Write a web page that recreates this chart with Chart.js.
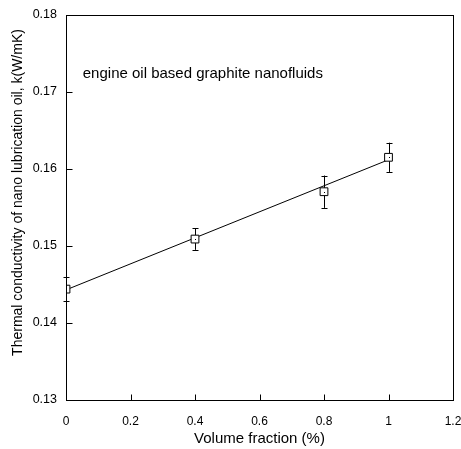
<!DOCTYPE html>
<html>
<head>
<meta charset="utf-8">
<script src="https://cdn.jsdelivr.net/npm/chart.js@4"></script>
<style>
  html, body { margin: 0; padding: 0; background: #fff; }
  #wrap { width: 461px; height: 449px; }
</style>
</head>
<body>
<div id="wrap"><canvas id="myChart" width="461" height="449"></canvas></div>
<script>
// measured points (volume fraction %, conductivity) with error half-widths
const volumeFraction = [0, 0.4, 0.8, 1.0]
const conductivity = [0.1444, 0.1509, 0.15705, 0.16152]
const errors = [0.0016, 0.0014, 0.0021, 0.0019]

// straight trend line
const fitX = [0, 1.0]
const fitY = [0.1443, 0.1612]

const xTicks = [0, 0.2, 0.4, 0.6, 0.8, 1, 1.2]
const yTicks = [0.13, 0.14, 0.15, 0.16, 0.17, 0.18]

const noteText = 'engine oil based graphite nanofluids'
const yTitle = 'Thermal conductivity of nano lubrication oil, k(W/mK)'

const font = 'Liberation Sans, Arial, sans-serif'

const extras = {
  id: 'extras',
  afterDatasetsDraw(chart) {
    const { ctx, scales: { x, y } } = chart
    ctx.save()
    ctx.strokeStyle = '#000'
    ctx.lineWidth = 1

    // error bars
    volumeFraction.forEach((v, i) => {
      const px = Math.round(x.getPixelForValue(v)) + 0.5
      const top = y.getPixelForValue(conductivity[i] + errors[i])
      const bot = y.getPixelForValue(conductivity[i] - errors[i])
      const mid = y.getPixelForValue(conductivity[i])
      ctx.beginPath()
      ctx.moveTo(px, top); ctx.lineTo(px, mid - 4)
      ctx.moveTo(px, mid + 4); ctx.lineTo(px, bot)
      ctx.moveTo(px - 3, Math.round(top) + 0.5); ctx.lineTo(px + 3, Math.round(top) + 0.5)
      ctx.moveTo(px - 3, Math.round(bot) + 0.5); ctx.lineTo(px + 3, Math.round(bot) + 0.5)
      ctx.stroke()
    })

    // small dot in marker centres
    ctx.fillStyle = '#000'
    volumeFraction.forEach((v, i) => {
      ctx.fillRect(Math.round(x.getPixelForValue(v)), Math.round(y.getPixelForValue(conductivity[i])), 1, 1)
    })
    ctx.restore()
  },
  afterDraw(chart) {
    const { ctx, chartArea: a, scales: { x, y } } = chart
    ctx.save()
    ctx.strokeStyle = '#000'
    ctx.lineWidth = 1
    const L = Math.round(a.left) + 0.5, R = Math.round(a.right) + 0.5
    const T = Math.round(a.top) + 0.5, B = Math.round(a.bottom) + 0.5
    ctx.strokeRect(L, T, R - L, B - T)

    // inward tick marks
    ctx.beginPath()
    xTicks.forEach(v => {
      const px = Math.round(x.getPixelForValue(v)) + 0.5
      ctx.moveTo(px, B); ctx.lineTo(px, B - 6)
    })
    yTicks.forEach(v => {
      const py = Math.round(y.getPixelForValue(v)) + 0.5
      ctx.moveTo(L, py); ctx.lineTo(L + 6, py)
    })
    ctx.stroke()

    // note inside the plot
    ctx.fillStyle = '#000'
    ctx.font = '15px ' + font
    ctx.textBaseline = 'middle'
    ctx.textAlign = 'left'
    ctx.fillText(noteText, x.getPixelForValue(0.052), y.getPixelForValue(0.1723))

    // y axis title (sits a little above the plot centre in the original)
    ctx.font = '14px ' + font
    ctx.textAlign = 'center'
    ctx.translate(18.5, 192.5)
    ctx.rotate(-Math.PI / 2)
    ctx.fillText(yTitle, 0, 0)
    ctx.restore()
  }
}

new Chart(document.getElementById('myChart'), {
  type: 'scatter',
  data: {
    datasets: [
      {
        label: 'fit',
        type: 'line',
        data: fitX.map((v, i) => ({ x: v, y: fitY[i] })),
        borderColor: '#000',
        borderWidth: 1,
        pointRadius: 0,
        fill: false,
        order: 2
      },
      {
        label: 'measured',
        data: volumeFraction.map((v, i) => ({ x: v, y: conductivity[i] })),
        pointStyle: 'rect',
        pointRadius: 5.5,
        pointBackgroundColor: '#fff',
        pointBorderColor: '#000',
        pointBorderWidth: 1,
        order: 1
      }
    ]
  },
  options: {
    responsive: false,
    animation: false,
    devicePixelRatio: 1,
    layout: { padding: { left: 0, top: 15, right: 8, bottom: 0 } },
    plugins: { legend: { display: false }, tooltip: { enabled: false } },
    scales: {
      x: {
        type: 'linear',
        min: 0,
        max: 1.2,
        afterBuildTicks: s => { s.ticks = xTicks.map(v => ({ value: v })) },
        afterFit: s => { s.height = 49; s.paddingLeft = 0; s.paddingRight = 0 },
        grid: { display: false, drawTicks: false },
        border: { display: false },
        ticks: {
          color: '#000',
          font: { family: font, size: 12 },
          padding: 14,
          maxRotation: 0,
          callback: v => String(+v.toFixed(1))
        },
        title: {
          display: true,
          text: 'Volume fraction (%)',
          color: '#000',
          font: { family: font, size: 15 },
          padding: { top: 0, bottom: 1 }
        }
      },
      y: {
        type: 'linear',
        min: 0.13,
        max: 0.18,
        afterBuildTicks: s => { s.ticks = yTicks.map(v => ({ value: v })) },
        afterFit: s => { s.width = 66; s.paddingTop = 0; s.paddingBottom = 0 },
        grid: { display: false, drawTicks: false },
        border: { display: false },
        ticks: {
          color: '#000',
          font: { family: font, size: 12.5 },
          padding: 9,
          callback: v => v.toFixed(2)
        },
        title: { display: false }
      }
    }
  },
  plugins: [extras]
})
</script>
</body>
</html>
